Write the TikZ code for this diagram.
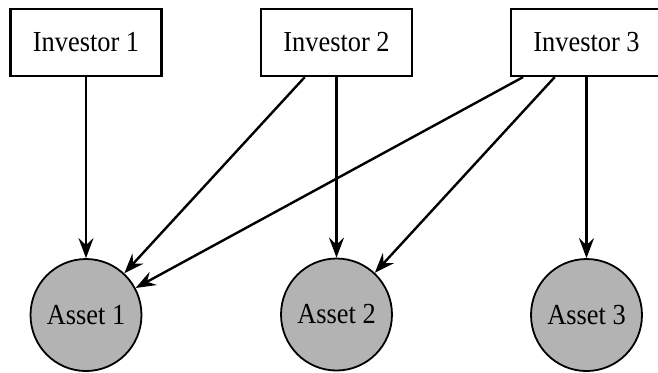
\documentclass[tikz,border=0pt]{standalone}
\usepackage{fontspec}
\setmainfont{Liberation Serif}
\usetikzlibrary{shapes.geometric,arrows.meta}
\definecolor{assetgray}{RGB}{179,179,179}
\newcommand{\lbl}[1]{\scalebox{1}[1.1]{#1}}
\begin{document}
\begin{tikzpicture}[x=0.5pt,y=-0.5pt,
  font=\fontsize{13.2}{16}\selectfont,
  investor/.style={draw,line width=1.1pt,minimum width=75.5pt,minimum height=33.5pt,inner sep=0pt},
  asset/.style={draw,ellipse,line width=0.9pt,fill=assetgray,minimum width=50.5pt,minimum height=56pt,inner sep=0pt},
  link/.style={line width=1.2pt,-{Stealth[length=10pt,width=7.5pt,inset=3.5pt]}}]
\useasboundingbox (0,0) rectangle (658,372);
\node[investor] (i1) at (86,42.5)  {\lbl{Investor 1}};
\node[investor] (i2) at (336.5,42.5) {\lbl{Investor 2}};
\node[investor] (i3) at (586.5,42.5) {\lbl{Investor 3}};
\node[asset] (a1) at (86,315)    {\lbl{Asset 1}};
\node[asset] (a2) at (336.5,314.5) {\lbl{Asset 2}};
\node[asset] (a3) at (586.5,315) {\lbl{Asset 3}};
\draw[link] (i1) -- (a1);
\draw[link] (i2) -- (a1);
\draw[link] (i2) -- (a2);
\draw[link] (i3) -- (a1);
\draw[link] (i3) -- (a2);
\draw[link] (i3) -- (a3);
\end{tikzpicture}
\end{document}
